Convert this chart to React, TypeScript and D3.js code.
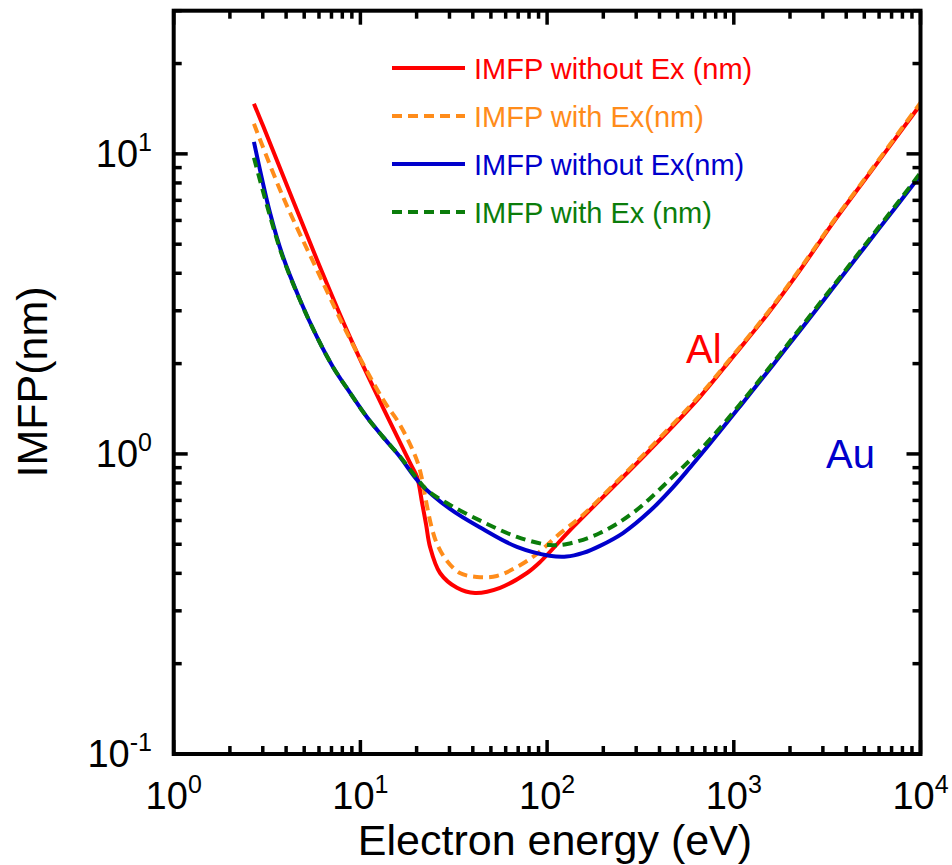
import React from "react";
import * as d3 from "d3";

// ---- data ----
const alNoExE = [2.69, 3.01, 5.86, 8.79, 13.2, 18.5, 20.1, 21.4, 22.5, 23.6, 26.7, 32.9, 41.1, 56.0, 78.0, 91.6, 138, 237, 355, 659, 991, 1507, 2264, 3398, 5168, 10000];
const alNoExV = [14.7, 12.4, 4.43, 2.45, 1.43, 0.93, 0.838, 0.687, 0.58, 0.49, 0.401, 0.358, 0.344, 0.358, 0.401, 0.436, 0.571, 0.8, 1.03, 1.55, 2.11, 2.91, 4.1, 5.89, 8.38, 14.6];

const alExE = [2.69, 3.85, 5.86, 8.79, 13.2, 16.3, 20.1, 21.6, 22.2, 24.2, 26.0, 29.1, 34.1, 42.1, 53.8, 68.9, 88.1, 113, 155, 237, 355, 659, 991, 1507, 2264, 3398, 5168, 10000];
const alExV = [12.6, 7.19, 4.1, 2.42, 1.52, 1.25, 0.95, 0.8, 0.724, 0.562, 0.494, 0.44, 0.401, 0.389, 0.392, 0.42, 0.464, 0.533, 0.625, 0.81, 1.045, 1.57, 2.13, 2.94, 4.14, 5.94, 8.45, 14.8];

const auNoExE = [2.69, 3.28, 3.85, 4.75, 5.86, 7.13, 8.79, 10.8, 13.2, 16.3, 20.8, 30.2, 45.3, 68.9, 103, 127, 156, 192, 255, 355, 472, 582, 718, 1079, 1622, 2264, 3398, 5168, 7762, 10000];
const auNoExV = [10.96, 6.36, 4.54, 3.26, 2.45, 1.95, 1.6, 1.33, 1.14, 0.977, 0.8, 0.656, 0.562, 0.49, 0.458, 0.455, 0.468, 0.494, 0.545, 0.645, 0.774, 0.9, 1.052, 1.44, 1.98, 2.58, 3.57, 5.0, 6.93, 8.49];

const auExE = [2.69, 3.28, 3.85, 4.75, 5.86, 7.13, 8.79, 10.8, 13.2, 16.3, 20.3, 22.7, 30.2, 45.4, 69.0, 103.5, 128, 192, 288, 472, 718, 1079, 1622, 2264, 3398, 5168, 7762, 10000];
const auExV = [9.7, 6.2, 4.5, 3.25, 2.45, 1.95, 1.6, 1.33, 1.14, 0.98, 0.822, 0.759, 0.676, 0.593, 0.529, 0.497, 0.501, 0.545, 0.636, 0.84, 1.09, 1.465, 2.01, 2.62, 3.62, 5.07, 7.03, 8.65];

const seriesNames = ["IMFP without Ex (nm)", "IMFP with Ex(nm)", "IMFP without Ex(nm)", "IMFP with Ex (nm)"];
const seriesColors = ["#ff0000", "#ff8c1a", "#0000cc", "#0b7d0b"];
const seriesDashed = [false, true, false, true];
const seriesE = [alNoExE, alExE, auNoExE, auExE];
const seriesV = [alNoExV, alExV, auNoExV, auExV];

const xDecades = [0, 1, 2, 3, 4];
const yDecades = [-1, 0, 1];

const W = 952;
const H = 865;
const m = { left: 173.7, right: 920.5, top: 10.7, bottom: 754 };
const FONT = "'Liberation Sans', Arial, Helvetica, sans-serif";

export default function App() {
  const x = d3.scaleLog().domain([1, 10000]).range([m.left, m.right]);
  const y = d3.scaleLog().domain([0.1, 30]).range([m.bottom, m.top]);

  const line = d3
    .line<[number, number]>()
    .x((d) => x(d[0]))
    .y((d) => y(d[1]))
    .curve(d3.curveCatmullRom.alpha(0.5));

  const xMinor: number[] = [];
  for (let dcd = 0; dcd < 4; dcd++) for (let k = 2; k <= 9; k++) xMinor.push(k * Math.pow(10, dcd));
  const yMinor: number[] = [];
  for (let dcd = -1; dcd <= 1; dcd++)
    for (let k = 2; k <= 9; k++) {
      const v = k * Math.pow(10, dcd);
      if (v <= 30) yMinor.push(v);
    }

  const MAJ = 14;
  const MIN = 8;
  const tickW = 3.5;

  const legendY = [68, 116, 164, 212];

  return (
    <svg
      width={W}
      height={H}
      style={{ position: "absolute", left: 0, top: 0, background: "#fff" }}
      fontFamily={FONT}
    >
      <rect x={0} y={0} width={W} height={H} fill="#fff" />
      <defs>
        <clipPath id="plot">
          <rect x={m.left} y={m.top} width={m.right - m.left} height={m.bottom - m.top} />
        </clipPath>
      </defs>

      {/* curves */}
      <g clipPath="url(#plot)">
        {seriesE.map((es, i) => (
          <path
            key={i}
            d={line(es.map((e, j) => [e, seriesV[i][j]] as [number, number])) || ""}
            fill="none"
            stroke={seriesColors[i]}
            strokeWidth={4}
            strokeDasharray={seriesDashed[i] ? "10,6" : undefined}
          />
        ))}
      </g>

      {/* ticks */}
      <g stroke="#000" strokeWidth={tickW}>
        {xDecades.map((dd) => {
          const px = x(Math.pow(10, dd));
          return (
            <g key={"xm" + dd}>
              <line x1={px} x2={px} y1={m.bottom} y2={m.bottom - MAJ} />
              <line x1={px} x2={px} y1={m.top} y2={m.top + MAJ} />
            </g>
          );
        })}
        {xMinor.map((v) => {
          const px = x(v);
          return (
            <g key={"xn" + v}>
              <line x1={px} x2={px} y1={m.bottom} y2={m.bottom - MIN} />
              <line x1={px} x2={px} y1={m.top} y2={m.top + MIN} />
            </g>
          );
        })}
        {yDecades.map((dd) => {
          const py = y(Math.pow(10, dd));
          return (
            <g key={"ym" + dd}>
              <line x1={m.left} x2={m.left + MAJ} y1={py} y2={py} />
              <line x1={m.right} x2={m.right - MAJ} y1={py} y2={py} />
            </g>
          );
        })}
        {yMinor.map((v) => {
          const py = y(v);
          return (
            <g key={"yn" + v}>
              <line x1={m.left} x2={m.left + MIN} y1={py} y2={py} />
              <line x1={m.right} x2={m.right - MIN} y1={py} y2={py} />
            </g>
          );
        })}
      </g>

      {/* frame */}
      <rect
        x={m.left}
        y={m.top}
        width={m.right - m.left}
        height={m.bottom - m.top}
        fill="none"
        stroke="#000"
        strokeWidth={4}
      />

      {/* x tick labels */}
      {xDecades.map((dd) => (
        <text key={"xl" + dd} x={x(Math.pow(10, dd))} y={809} textAnchor="middle" fontSize={38} fill="#000">
          <tspan>10</tspan>
          <tspan fontSize={25} dy={-16}>
            {String(dd)}
          </tspan>
        </text>
      ))}

      {/* y tick labels */}
      {yDecades.map((dd) => (
        <text key={"yl" + dd} x={152} y={y(Math.pow(10, dd)) + 13} textAnchor="end" fontSize={38} fill="#000">
          <tspan>10</tspan>
          <tspan fontSize={25} dy={-16}>
            {String(dd)}
          </tspan>
        </text>
      ))}

      {/* axis titles */}
      <text x={555} y={855} textAnchor="middle" fontSize={43} fill="#000">
        Electron energy (eV)
      </text>
      <text transform="translate(47,382) rotate(-90)" textAnchor="middle" fontSize={43} fill="#000">
        IMFP(nm)
      </text>

      {/* legend */}
      {seriesNames.map((name, i) => (
        <g key={"lg" + i}>
          <line
            x1={392}
            x2={465}
            y1={legendY[i]}
            y2={legendY[i]}
            stroke={seriesColors[i]}
            strokeWidth={4}
            strokeDasharray={seriesDashed[i] ? "10,6" : undefined}
          />
          <text x={474} y={legendY[i] + 10.5} fontSize={29} fill={seriesColors[i]}>
            {name}
          </text>
        </g>
      ))}

      {/* material labels */}
      <text x={686} y={363} fontSize={40} fill="#ff0000">
        Al
      </text>
      <text x={826} y={468} fontSize={40} fill="#0000cc">
        Au
      </text>
    </svg>
  );
}
